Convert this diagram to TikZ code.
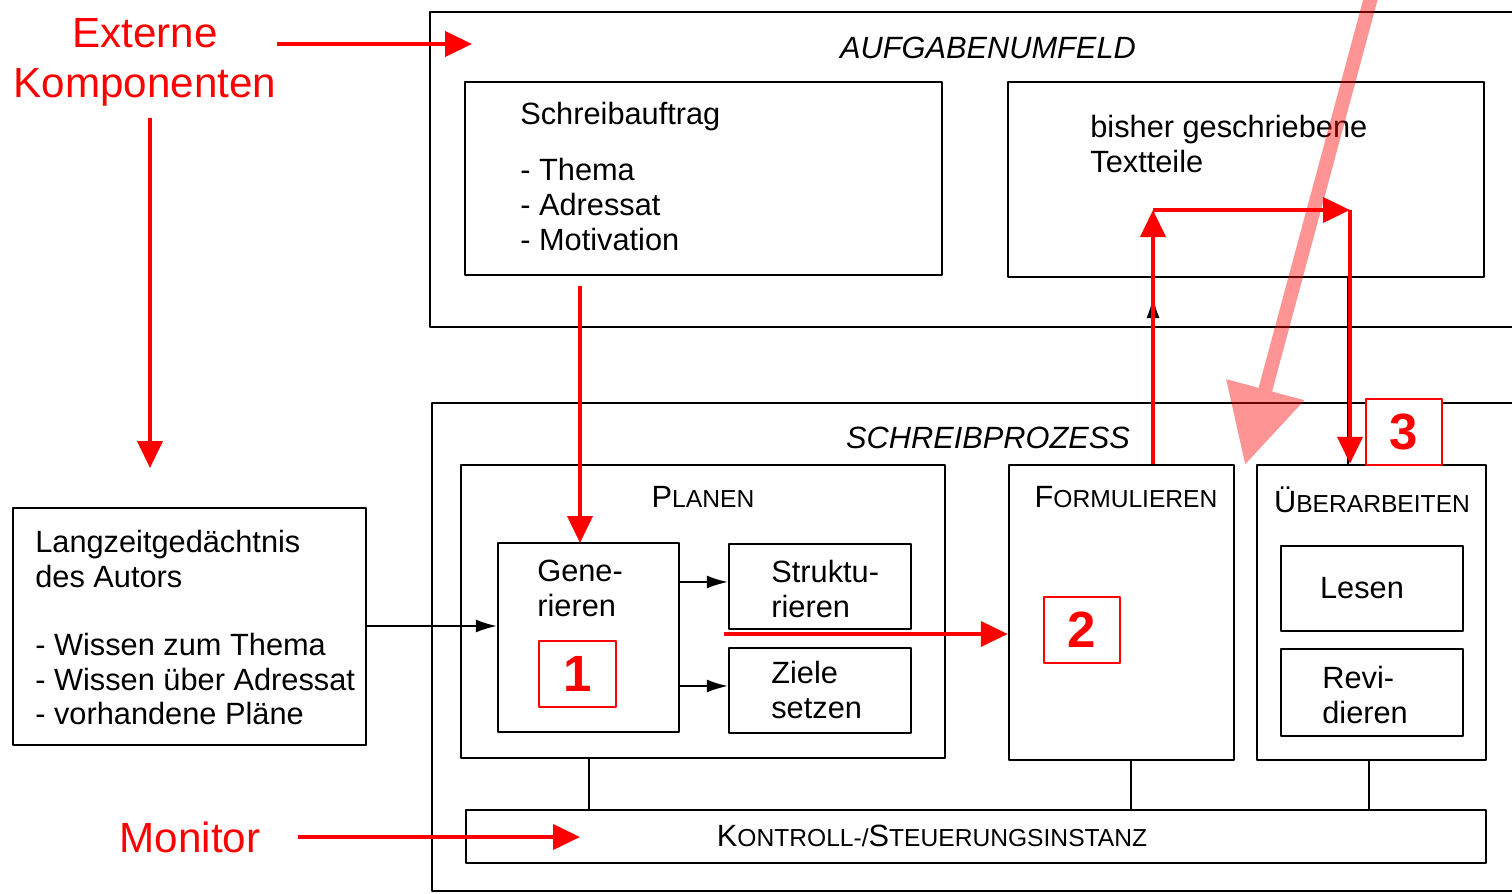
\documentclass[tikz,border=0pt]{standalone}
\usepackage{fontspec}
\setmainfont{Liberation Sans}
\usetikzlibrary{arrows.meta,fit,calc,positioning}
\newcommand\kapit[2]{{\fontsize{17.5}{20}\selectfont #1}{\fontsize{14}{17}\selectfont #2}}

\begin{document}
\begin{tikzpicture}[x=0.2mm,y=-0.2mm,line join=round,
  box/.style={draw,line width=0.5mm,inner sep=0pt},
  txt/.style={anchor=north west,inner sep=0pt,align=left,font=\fontsize{17.5}{19.8}\selectfont},
  head/.style={inner sep=0pt,font=\fontsize{17.5}{20}\selectfont},
  link/.style={line width=0.3mm,-{Latex[length=4.2mm,width=2.6mm]}},
  redarrow/.style={red,line width=0.8mm,-{Triangle[length=5.4mm,width=5mm]}},
  numbox/.style={draw=red,fill=white,line width=0.4mm,text=red,minimum width=15.3mm,minimum height=13.2mm,
    font=\bfseries\fontsize{29}{30}\selectfont},
  remark/.style={text=red,inner sep=0pt,align=center,font=\fontsize{24}{28.5}\selectfont}]
  \useasboundingbox (0,0) rectangle (1512,893);
  \clip (0,0) rectangle (1512,893);

  % Aufgabenumfeld
  \node[box,fit={(430,12)(1530,327)}] (auf) {};
  \node[head,font=\itshape\fontsize{17.5}{20}\selectfont] (aufT) at (988,48) {AUFGABENUMFELD};
  \node[box,fit={(465,82)(942,275)}] (sa) {};
  \node[txt] (saT) at (520,102) {Schreibauftrag\\[12.2pt]- Thema\\- Adressat\\- Motivation};
  \node[box,fit={(1008,82)(1484,277)}] (bis) {};
  \node[txt] (bisT) at (1090,115) {bisher geschriebene\\Textteile};

  % Langzeitgedaechtnis
  \node[box,fit={(13,508)(366,745)}] (lzg) {};
  \node[txt] (lzgT) at (35,530) {Langzeitgedächtnis\\des Autors\\[18.8pt]- Wissen zum Thema\\- Wissen über Adressat\\- vorhandene Pläne};

  % Schreibprozess
  \node[box,fit={(432,403)(1530,891)}] (sp) {};
  \node[head,font=\itshape\fontsize{17.5}{20}\selectfont] (spT) at (988,438) {SCHREIBPROZESS};

  \node[box,fit={(461,465)(945,758)}] (plan) {};
  \node[head] (planT) at (703,497) {\kapit{P}{LANEN}};
  \node[box,fit={(498,543)(679,732)}] (gen) {};
  \node[txt] (genT) at (537,560) {Gene-\\rieren};
  \node[box,fit={(729,544)(911,629)}] (str) {};
  \node[txt] (strT) at (771,560) {Struktu-\\rieren};
  \node[box,fit={(729,648)(911,733)}] (ziel) {};
  \node[txt] (zielT) at (771,661) {Ziele\\setzen};

  \node[box,fit={(1009,465)(1234,760)}] (form) {};
  \node[head] (formT) at (1126,497) {\kapit{F}{ORMULIEREN}};

  \node[box,fit={(1257,465)(1486,760)}] (ueb) {};
  \node[head] (uebT) at (1372,500) {\kapit{Ü}{BERARBEITEN}};
  \node[box,fit={(1281,546)(1463,631)}] (les) {};
  \node[head] (lesT) at (1362,588) {Lesen};
  \node[box,fit={(1281,649)(1463,736)}] (rev) {};
  \node[txt] (revT) at (1322,666) {Revi-\\dieren};

  \node[box,fit={(466,810)(1486,863)}] (kon) {};
  \node[head] (konT) at (932,836) {\kapit{K}{ONTROLL-/}\kapit{S}{TEUERUNGSINSTANZ}};

  % black connectors
  \coordinate (bt) at (1153,297);
  \draw[link] (lzg.east |- 0,626) -- (gen.west |- 0,626);
  \draw[link] (gen.east |- 0,582) -- (str.west |- 0,582);
  \draw[link] (gen.east |- 0,686) -- (ziel.west |- 0,686);
  \draw[link] (form.north -| bt) -- (bt);
  \draw[line width=0.3mm] (bis.south -| 1348,0) -- (ueb.north -| 1348,0);
  \draw[line width=0.3mm] (plan.south -| 589,0) -- (kon.north -| 589,0);
  \draw[line width=0.3mm] (form.south -| 1131,0) -- (kon.north -| 1131,0);
  \draw[line width=0.3mm] (ueb.south -| 1369,0) -- (kon.north -| 1369,0);

  % red remarks
  \node[remark] (ext) at (145,62) {Externe\\Komponenten};
  \node[remark] (mon) at (190,837) {Monitor};
  \coordinate (auftip) at (472,44);
  \coordinate (lzgtip) at (150,468);
  \coordinate (kontip) at (580,837);
  \coordinate (gentop) at (580,543);
  \coordinate (planout) at (724,634);
  \coordinate (c1) at (1153,210);
  \coordinate (c2) at (1350,210);
  \draw[redarrow] (ext.east |- auftip) -- (auftip);
  \draw[redarrow] ($(ext.south -| lzgtip)+(0,12)$) -- (lzgtip);
  \draw[redarrow] ($(mon.east)+(37,0)$) -- (kontip);
  \draw[redarrow] ($(sa.south -| gentop)+(0,10)$) -- (gentop);
  \draw[redarrow] (planout) -- (form.west |- planout);
  \draw[redarrow] (form.north -| c1) -- (c1);
  \draw[redarrow] (c1) -- (c2);
  \draw[redarrow] (c2) -- (ueb.north -| c2);

  \node[numbox] (n1) at (577.5,674) {1};
  \node[numbox] (n2) at (1082,630) {2};
  \node[numbox] (n3) at (1404,432) {3};

  % transparent arrow
  \coordinate (pinktip) at (1245,465);
  \begin{scope}[transparency group,opacity=0.42]
    \draw[red,line width=2.8mm,-{Triangle[length=15.6mm,width=15.4mm]}] (1373,-10) -- (pinktip);
  \end{scope}
\end{tikzpicture}
\end{document}
